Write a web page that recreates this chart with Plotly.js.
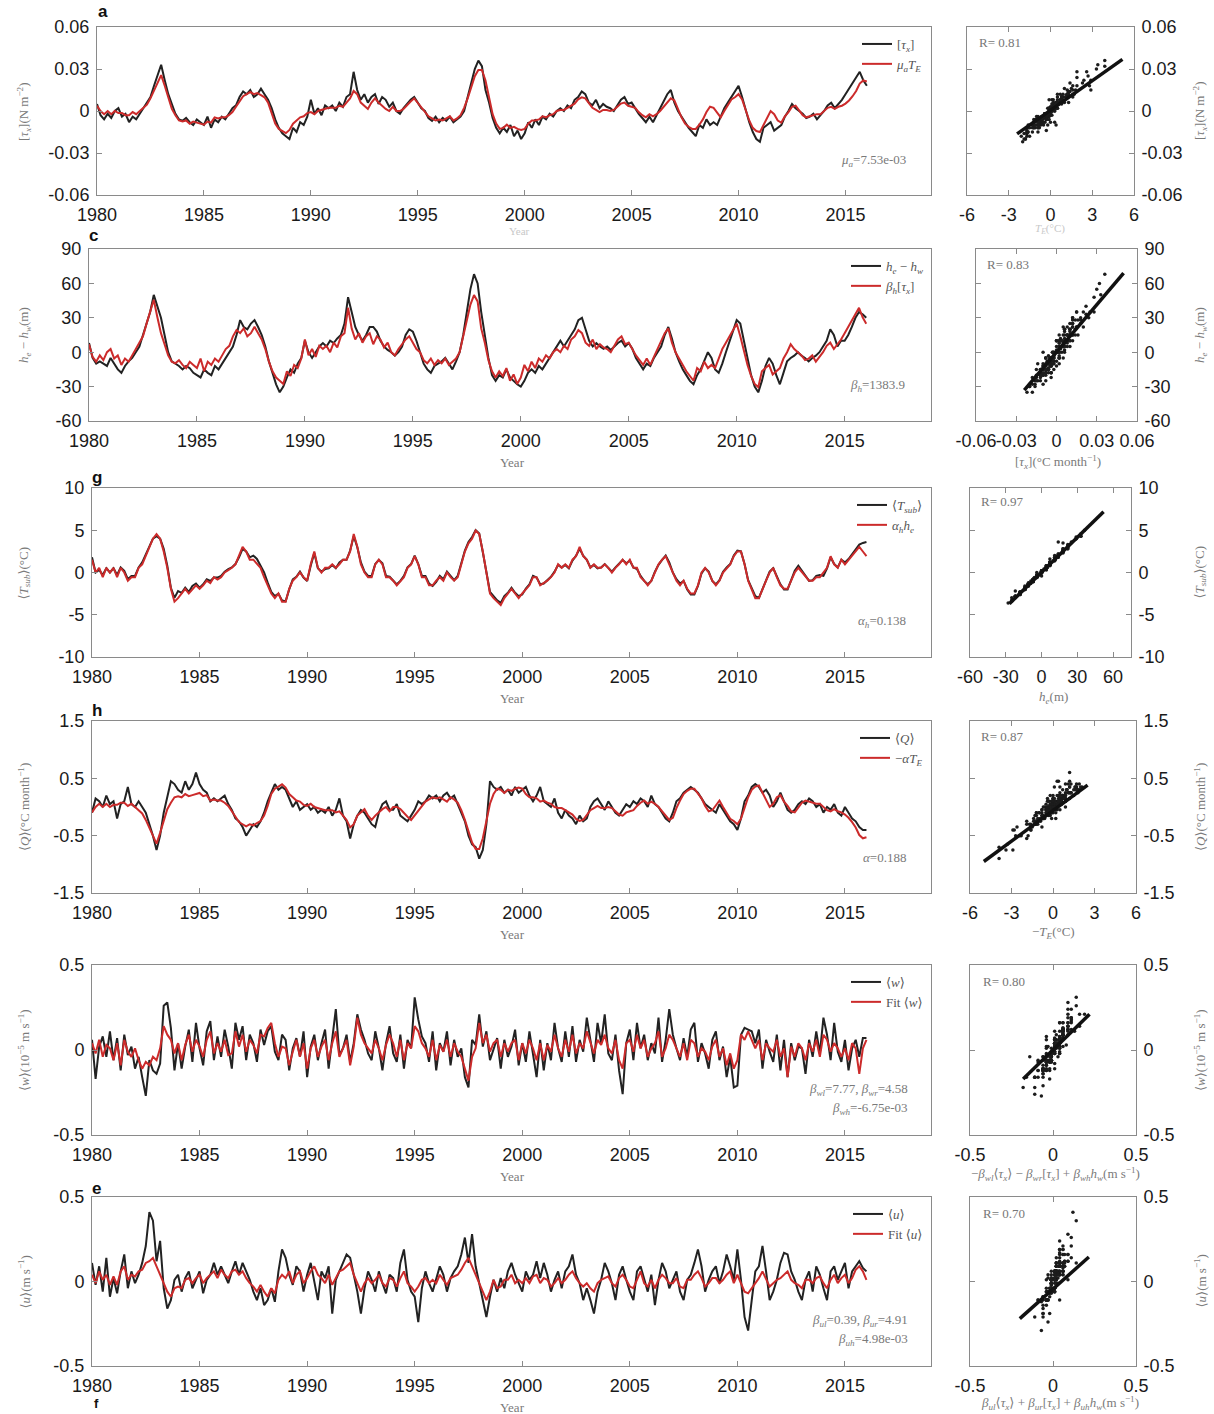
<!DOCTYPE html>
<html><head><meta charset="utf-8">
<script src="https://cdn.plot.ly/plotly-3.0.1.min.js"></script>
<style>body{margin:0;background:#fff}#chart{width:1214px;height:1414px}</style>
</head><body><div id="chart"></div>
<script>
// ---------------- DATA (bimonthly samples, Jan 1980 .. Jan 2016) ----------------
const startYear = 1980, stepYears = 1/6;
// Eastern SST anomaly T_E (°C)
const TE = [0.5,0,-0.3,0,-0.3,0, -0.2,-0.2,-0.4,-0.4,-0.1,-0.3, 0,0.3,0.6,1.2,1.9,2.7,
 3.4,2.4,1.2,0.2,-0.4,-0.9, -1.0,-0.9,-1.2,-1.0,-1.1,-1.2, -1.3,-1.0,-1.1,-0.6,-0.7,-0.6,
 -0.6,-0.4,-0.1,0.4,0.9,1.4, 1.6,1.8,1.6,1.7,1.5,1.3, 0.8,-0.1,-1.2,-1.7,-1.9,-2.1,
 -1.8,-1.2,-0.9,-0.6,-0.5,-0.2, -0.1,-0.3,0,0.1,0.2,0.3, 0.3,0.3,0.5,0.4,0.8,1.2,
 1.9,1.6,0.8,0.5,0.2,0.8, 1.2,0.8,0.5,0.2,0,0.4, 0,0,0.2,0.6,0.9,1.2,
 0.8,0.4,-0.1,-0.5,-0.7,-0.9, -0.8,-0.9,-0.7,-0.5,-0.9,-0.7, -0.4,0.3,1.2,2.3,3.3,3.9,
 3.9,2.9,1.3,-0.3,-1.2,-1.7, -1.6,-1.3,-1.6,-1.5,-1.7,-1.8, -1.7,-1.2,-0.9,-0.9,-0.8,-0.5,
 -0.6,-0.4,-0.3,0,0.1,0.1, 0.3,0.5,0.7,1.1,1.3,1.2, 0.7,0.3,0.1,-0.1,0.1,0.1,
 0,0.1,0.4,0.7,0.8,0.5, 0.4,0.3,-0.1,-0.4,-0.6,-0.3, -0.5,-0.3,0,0.4,0.9,1.2,
 1.0,0.1,-0.6,-1.2,-1.5,-1.7, -1.7,-1.3,-0.8,-0.1,0.4,0.3, -0.2,-0.6,0,0.5,1.1,1.3,
 1.6,1.1,0,-0.9,-1.6,-1.9, -2.0,-1.3,-0.7,0,-0.3,-0.9, -1.1,-0.5,-0.1,0.4,0.5,0.1,
 -0.4,-0.6,-0.5,-0.4,-0.3,-0.3, 0,0.3,0.4,0.2,0.4,0.5, 0.7,1.0,1.4,1.9,2.6,2.9, 2.8];
// Zonal wind stress [tau_x] (N m^-2)
const tauxObs = [.005,-.003,-.006,-.002,-.005,0, .002,-.004,-.002,-.008,-.004,-.006, -.002,.002,.006,.010,.018,.025,
 .033,.022,.012,.005,-.002,-.006, -.007,-.005,-.008,-.010,-.006,-.008, -.010,-.004,-.012,-.006,-.008,-.004,
 -.006,-.002,.002,.004,.010,.014, .012,.015,.010,.012,.016,.012, .008,.002,-.006,-.012,-.016,-.018,
 -.020,-.012,-.015,-.008,-.010,-.004, .008,-.002,.002,-.003,.004,.002, .004,0,.006,.003,.010,.012,
 .028,.015,.008,.012,.006,.010, .012,.005,.010,.008,.003,.006, 0,-.002,.002,.005,.008,.010,
 .006,.002,0,-.005,-.007,-.004, -.008,-.005,-.007,-.004,-.008,-.006, -.004,0,.010,.020,.030,.036,
 .032,.015,.006,-.005,-.012,-.016, -.012,-.015,-.010,-.018,-.014,-.020, -.016,-.008,-.012,-.006,-.010,-.004,
 -.006,-.002,-.004,0,.002,0, .004,.002,.008,.010,.014,.012, .006,.004,.008,.002,.005,.003,
 .002,0,.004,.008,.010,.005, .006,.002,-.002,-.005,-.008,-.004, -.008,-.003,.002,.006,.012,.015,
 .006,0,-.004,-.008,-.012,-.015, -.018,-.010,-.012,-.006,-.010,-.008, -.010,-.004,.002,.006,.010,.014,
 .018,.010,0,-.008,-.015,-.020, -.022,-.012,-.010,-.008,-.014,-.012, -.010,-.004,0,.005,.002,0,
 -.002,-.005,-.004,-.002,-.006,-.003, 0,.004,.006,.002,.005,.008, .012,.016,.020,.024,.028,.022, .018];
// Thermocline depth difference h_e - h_w (m)
const hDiff = [8,-5,-10,-8,-10,-12, -5,-10,-15,-18,-12,-8, -5,0,5,15,25,35,
 50,40,30,15,0,-8, -10,-12,-15,-12,-14,-18, -20,-22,-15,-18,-20,-12,
 -15,-10,-5,0,5,15, 28,22,20,25,28,22, 15,5,-8,-18,-28,-35,
 -30,-22,-15,-18,-10,-5, 10,0,-5,0,5,8, 5,10,8,12,15,25,
 48,35,22,15,10,15, 22,22,18,10,5,2, 0,-3,0,5,15,20,
 18,10,0,-10,-15,-18, -12,-10,-8,-5,-10,-15, -8,0,15,35,55,68,
 60,35,15,-5,-20,-25, -20,-22,-15,-22,-25,-28, -30,-25,-18,-15,-18,-12,
 -15,-10,-5,0,5,10, 5,10,15,20,28,30, 20,10,5,8,5,3,
 5,2,5,8,10,5, 8,3,-5,-10,-15,-10, -12,-5,0,5,15,22,
 12,0,-8,-15,-20,-25, -28,-20,-15,-8,0,-5, -15,-18,-10,0,10,20,
 28,25,10,-5,-20,-30, -35,-25,-12,-5,-10,-20, -28,-18,-8,-5,-3,0,
 -3,-5,-8,-5,-3,0, 5,10,20,15,5,10, 10,15,22,30,35,33, 30];
// Eastern thermocline depth h_e (m)
const heVals = [11,0,4,-4,4,0, 4,-4,4,0,-7,-4, -4,4,7,14,22,29,
 33,29,18,4,-14,-25, -22,-18,-14,-18,-14,-11, -14,-11,-7,-9,-4,-6,
 -4,0,2,4,7,14, 22,18,11,11,7,4, -4,-11,-18,-22,-18,-25,
 -25,-14,-7,-4,0,-4, -7,7,18,4,0,4, 4,7,4,7,11,11,
 18,33,22,7,0,-4, -4,7,11,7,-4,-4, -7,-11,-7,-4,4,7,
 14,7,-4,-4,-11,-11, -7,-4,-7,0,-4,-7, -4,7,18,25,29,36,
 33,18,0,-18,-22,-25, -28,-22,-18,-14,-18,-22, -18,-14,-11,-4,-4,-11,
 -9,-7,-4,0,7,4, 7,4,11,14,22,14, 11,4,7,4,4,7,
 4,0,4,7,11,7, 11,4,4,-4,-7,-11, -7,0,7,11,14,7,
 0,-7,-11,-7,-14,-18, -18,-11,0,4,0,-7, -11,-7,0,4,7,14,
 18,18,7,-7,-14,-22, -22,-14,-7,0,4,-4, -11,-14,-14,-7,0,4,
 0,-4,-7,-7,-4,-4, 0,4,14,7,4,11, 7,11,14,18,22,18, 14];
// Subsurface temperature <T_sub> (°C)
const TsubObs = [1.8,0,0.3,-0.3,0.5,0, 0.5,-0.3,0.6,0.2,-0.8,-0.4, -0.4,0.6,1.2,2.2,3.2,4.0,
 4.3,4.0,2.8,0.8,-1.8,-3.0, -2.2,-2.4,-1.8,-2.3,-1.6,-1.3, -1.8,-1.4,-0.8,-1.0,-0.6,-0.6,
 -0.4,0.1,0.4,0.6,1.0,1.8, 2.8,2.5,1.8,2.0,1.6,0.8, 0.0,-1.2,-2.3,-2.8,-2.5,-3.3,
 -3.4,-2.0,-0.8,-0.5,0.1,-0.6, -1.0,0.8,2.3,0.5,0.1,0.4, 0.5,0.9,0.5,1.2,1.5,1.5,
 2.6,4.3,3.0,1.2,0.1,-0.4, -0.4,1.0,1.5,1.1,-0.4,-0.5, -0.9,-1.4,-1.0,-0.4,0.6,1.0,
 2.0,1.0,-0.4,-0.4,-1.3,-1.6, -1.1,-0.4,-0.8,0.1,-0.4,-0.9, -0.4,1.1,2.6,3.6,4.2,5.0,
 4.6,2.4,0.2,-2.3,-2.8,-3.3, -3.6,-2.8,-2.4,-1.8,-2.4,-2.8, -2.6,-1.9,-1.4,-0.4,-0.6,-1.4,
 -1.3,-0.9,-0.5,0.1,0.9,0.6, 0.9,0.5,1.4,2.0,2.8,2.0, 1.5,0.6,0.9,0.5,0.6,1.0,
 0.5,0.1,0.6,1.0,1.5,1.1, 1.4,0.6,0.4,-0.4,-1.0,-1.4, -1.0,0.1,0.9,1.5,2.0,1.2,
 0.0,-0.8,-1.3,-1.0,-2.0,-2.6, -2.6,-1.6,-0.1,0.5,0.1,-1.0, -1.4,-0.9,0.1,0.6,1.0,2.0,
 2.6,2.5,1.0,-0.9,-1.9,-2.8, -3.0,-2.0,-1.1,0.1,0.5,-0.4, -1.4,-2.0,-2.0,-0.9,0.2,0.8,
 0.2,-0.4,-1.0,-0.9,-0.4,-0.3, -0.4,0.5,1.8,1.0,0.6,1.5, 1.2,1.6,2.2,2.8,3.3,3.5, 3.6];
// Heat flux <Q> (°C month^-1)
const Qobs = [-0.1,0.15,0.1,0,0.2,0.05, 0.1,-0.2,0.05,0.1,0.35,0.05, 0,0.1,0,-0.1,-0.3,-0.5,
 -0.75,-0.5,-0.1,0.2,0.45,0.4, 0.3,0.25,0.45,0.3,0.4,0.6, 0.4,0.3,0.25,0.1,0.15,0.1,
 0.15,0.2,0.05,-0.05,-0.2,-0.25, -0.35,-0.5,-0.4,-0.3,-0.35,-0.25, -0.1,0.1,0.25,0.4,0.3,0.35,
 0.3,0.15,0,0.1,-0.05,0, 0.05,-0.05,0,-0.1,-0.05,-0.1, 0,-0.15,-0.05,0.15,-0.15,-0.25,
 -0.55,-0.3,-0.15,-0.05,-0.1,-0.2, -0.3,-0.35,-0.1,0.05,0.1,-0.05, -0.05,0.05,-0.15,-0.2,-0.25,-0.15,
 -0.05,0.1,0.05,0.1,0.2,0.15, 0.2,0.1,0.2,0.25,0.15,0.2, 0.05,-0.1,-0.25,-0.5,-0.65,-0.7,
 -0.9,-0.75,-0.3,0.45,0.35,0.3, 0.35,0.25,0.3,0.2,0.35,0.25, 0.3,0.35,0.2,0.1,0.2,0.35,
 0.1,0.05,0,0.15,-0.1,-0.2, -0.05,-0.15,-0.2,-0.3,-0.15,-0.25, -0.2,0,0.1,0.15,0.05,-0.05,
 0.1,0,-0.1,-0.15,-0.05,0.05, 0,0.1,0.05,0.15,0.1,0, 0.2,0.05,0,-0.1,-0.2,-0.25,
 -0.1,0.1,0.15,0.25,0.3,0.35, 0.3,0.25,0.15,0.05,0,-0.05, -0.1,0.05,-0.05,-0.15,-0.25,-0.3,
 -0.4,-0.2,0.1,0.2,0.35,0.4, 0.35,0.25,0.3,0.2,0,0.1, 0.25,0.1,-0.05,-0.1,-0.05,0.05,
 0.1,0.05,0.15,0.1,0,0.05, -0.1,0,-0.05,0.05,-0.1,-0.15, 0,-0.1,-0.2,-0.25,-0.35,-0.4, -0.4];
// Upwelling <w> (1e-5 m s^-1) and its fit
const wObs = [0.06,-0.17,0.02,0.08,-0.04,0.11, -0.06,0.07,-0.12,0.09,-0.03,0.02, -0.11,-0.04,-0.16,-0.27,-0.06,-0.12,
 -0.14,-0.08,0.26,0.28,0.13,-0.12, 0.04,-0.11,0.02,0.12,-0.07,0.16, 0.01,-0.09,0.11,0.17,-0.06,0.08,
 -0.04,0.12,0.02,-0.11,0.16,0.06, 0.14,-0.06,0.09,0.04,-0.07,0.12, 0.03,0.11,0.14,-0.01,-0.06,0.09,
 0.06,-0.12,0.01,0.07,-0.04,0.11, -0.16,0.02,0.09,-0.06,0.04,0.12, -0.11,0.06,0.24,-0.03,0.01,0.09,
 -0.07,0.04,0.21,0.12,0.06,-0.02, -0.06,0.11,0.01,-0.12,0.04,0.14, -0.02,-0.07,0.09,-0.11,0.06,0.01,
 0.31,0.18,0.08,0.04,-0.07,0.11, -0.12,0.04,-0.01,0.11,-0.09,0.06, -0.04,0.01,-0.16,-0.22,0.06,0.03,
 0.21,0.02,0.11,-0.06,0.01,0.07, -0.11,0.06,-0.04,0.02,0.12,-0.09, 0.04,-0.07,0.11,-0.02,-0.16,0.06,
 -0.12,0.04,-0.06,0.16,0.01,-0.07, 0.11,-0.04,0.14,-0.07,0.06,-0.01, 0.19,0.06,-0.07,0.16,0.04,0.21,
 -0.02,-0.06,0.09,-0.12,-0.26,0.04, 0.12,-0.06,0.16,0.01,0.09,-0.06, 0.04,-0.02,0.19,-0.07,0.06,0.24,
 0.09,0.01,-0.06,0.07,-0.04,0.12, 0.16,-0.07,0.04,-0.02,-0.11,0.06, 0.11,-0.06,0.02,-0.16,-0.04,-0.22,
 -0.21,0.09,0.13,0.12,0.11,0.04, 0.12,-0.11,0.06,-0.01,-0.07,0.09, -0.12,0.06,-0.16,0.04,-0.06,0.02,
 0.01,-0.14,0.06,-0.04,0.11,-0.02, 0.19,0.09,-0.06,0.16,-0.01,-0.07, 0.06,-0.12,0.01,0.06,-0.04,0.07, 0.07];
const wFit = [0.04,-0.02,0.06,-0.04,0.03,0.01, -0.06,0.04,-0.09,0.06,-0.01,-0.04, 0.01,-0.06,-0.11,-0.07,-0.09,-0.04,
 -0.06,0.01,0.14,0.09,0.06,-0.02, 0.04,-0.06,0.03,0.09,-0.01,0.06, 0.02,-0.04,0.06,0.11,-0.02,0.04,
 -0.01,0.06,-0.03,-0.02,0.11,0.02, 0.09,-0.01,0.06,0.03,-0.02,0.09, 0.08,0.13,0.16,0.04,-0.04,0.02,
 0.01,-0.09,-0.01,0.06,-0.04,0.04, -0.11,0.01,0.06,-0.04,0.02,0.06, -0.06,0.04,0.11,-0.04,0.01,0.06,
 -0.09,0.02,0.19,0.09,0.04,0.01, -0.02,0.06,0.01,-0.06,0.03,0.09, 0.04,-0.04,0.06,-0.06,0.04,0.01,
 0.14,0.11,0.04,0.01,-0.04,0.06, -0.06,0.03,-0.01,0.06,-0.04,0.04, -0.01,-0.04,-0.11,-0.18,-0.04,0.01,
 0.16,0.04,0.09,-0.01,0.04,0.06, -0.04,0.04,-0.01,0.04,0.06,-0.06, 0.04,-0.02,0.06,0.01,-0.06,0.04,
 -0.06,0.03,-0.01,0.09,0.01,-0.04, 0.06,-0.01,0.09,-0.02,0.04,0.01, 0.11,0.04,-0.02,0.06,0.03,0.09,
 0.01,-0.02,0.06,-0.06,-0.11,0.04, 0.06,-0.01,0.09,0.01,0.06,-0.04, 0.01,0.04,0.11,-0.04,0.01,0.09,
 0.06,0.01,-0.04,0.04,-0.06,0.06, 0.04,-0.04,0.01,-0.01,-0.06,0.02, 0.06,-0.04,0.01,-0.09,-0.02,-0.11,
 -0.06,0.09,0.06,0.11,0.06,0.01, 0.06,-0.06,0.04,0.01,-0.01,0.06, -0.04,0.01,-0.16,0.02,-0.04,0.04,
 0.01,-0.06,0.04,-0.01,0.06,-0.04, 0.09,0.06,-0.01,0.04,0.01,-0.04, 0.01,-0.06,0.04,0.01,-0.14,0.01, 0.06];
// Zonal current <u> (m s^-1) and its fit
const uObs = [0.11,-0.02,0.09,-0.06,0.14,-0.09, 0.02,-0.07,0.06,0.16,-0.04,0.06, -0.01,0.04,0.11,0.21,0.41,0.36,
 0.12,0.24,-0.04,-0.16,-0.11,0.01, 0.04,-0.06,0.02,0.06,-0.04,0.01, 0.06,-0.07,0.01,0.04,0.11,0.04,
 0.09,0.04,-0.01,0.06,0.12,0.04, 0.11,0.06,0.01,-0.06,-0.11,-0.04, -0.14,-0.11,-0.04,-0.12,0.06,0.19,
 0.14,0.04,-0.02,0.09,0.06,-0.06, 0.04,0.11,0.01,-0.11,0.06,0.02, 0.09,-0.19,0.01,0.06,0.12,0.16,
 0.14,0.04,-0.06,-0.19,-0.04,0.06, 0.01,-0.06,0.06,-0.01,-0.07,0.04, 0.02,-0.06,0.11,0.19,0.01,-0.06,
 -0.09,-0.24,-0.04,0.06,-0.01,-0.06, 0.01,0.09,0.04,-0.06,0.02,0.06, 0.09,0.16,0.26,0.11,0.28,0.09,
 -0.01,-0.11,-0.21,-0.09,0.01,-0.06, 0.02,-0.04,0.06,0.11,0.04,-0.01, -0.06,0.06,0.01,0.04,0.12,0.02,
 0.11,0.04,-0.06,0.01,0.06,-0.04, 0.06,0.09,0.16,0.04,-0.01,-0.11, -0.04,-0.11,-0.19,-0.06,0.01,0.11,
 0.06,-0.01,-0.11,0.04,0.09,0.01, -0.06,-0.11,0.06,0.09,0.01,-0.06, 0.04,-0.14,0.01,0.11,0.06,-0.04,
 0.01,0.06,-0.06,-0.11,0.01,0.04, 0.11,0.19,0.09,-0.06,0.01,0.06, 0.09,-0.01,0.06,0.16,0.09,0.01,
 0.19,0.01,-0.21,-0.29,-0.11,0.06, 0.09,0.21,0.06,-0.11,-0.06,0.01, 0.11,0.17,0.16,0.06,0.01,-0.06,
 -0.11,0.01,0.06,-0.06,0.09,0.04, -0.04,-0.11,0.06,0.09,0.01,0.06, 0.11,-0.04,0.06,0.09,0.12,0.08, 0.06];
const uFit = [0.04,-0.01,0.06,0.01,0.04,-0.02, 0.03,-0.02,0.06,0.09,0.01,0.04, 0.03,0.06,0.07,0.11,0.12,0.14,
 0.09,0.04,-0.02,-0.06,-0.09,-0.04, -0.03,-0.04,0.01,0.02,-0.01,0.02, 0.04,-0.01,0.02,0.04,0.06,0.02,
 0.07,0.04,0.02,0.06,0.07,0.04, 0.06,0.02,-0.01,-0.03,-0.06,-0.02, -0.06,-0.09,-0.04,-0.07,0.01,0.04,
 0.02,0.06,-0.01,0.04,0.06,-0.01, 0.02,0.06,0.09,0.04,0.02,-0.01, 0.04,-0.02,0.02,0.06,0.07,0.09,
 0.11,0.04,-0.01,-0.06,-0.01,0.02, -0.01,0.01,0.04,-0.01,-0.03,0.02, 0.01,-0.03,0.02,0.06,-0.01,-0.03,
 -0.06,-0.03,0.01,0.02,-0.01,0.01, -0.01,0.04,0.01,-0.02,0.02,0.03, 0.04,0.07,0.11,0.14,0.09,0.04,
 -0.01,-0.07,-0.11,-0.06,0.01,-0.04, -0.03,0.01,0.01,0.04,-0.01,0.01, -0.01,0.02,-0.01,0.03,0.04,-0.01,
 0.02,0.01,-0.03,-0.01,0.02,-0.01, 0.01,0.04,0.06,0.02,-0.01,-0.03, -0.01,-0.04,-0.06,-0.01,0.01,0.02,
 0.03,-0.01,-0.03,0.02,0.04,0.01, -0.03,-0.04,0.01,0.06,-0.01,-0.03, 0.01,-0.04,0.01,0.04,0.02,-0.01,
 -0.01,0.02,-0.03,-0.04,0.01,0.01, 0.04,0.06,0.02,-0.03,-0.01,0.02, 0.02,-0.01,0.01,0.04,0.06,-0.01,
 0.04,-0.01,-0.06,-0.07,-0.04,-0.01, 0.02,0.06,0.01,-0.03,-0.01,0.01, 0.02,0.04,0.06,0.01,-0.01,-0.02,
 -0.04,0.01,0.01,-0.01,0.02,0.03, -0.01,-0.04,0.01,0.04,-0.01,0.02, 0.04,-0.01,0.02,0.07,0.09,0.06, 0.01];
// Regression coefficients
const muA = 7.53e-3, betaH = 1383.9, alphaH = 0.138, alphaQ = 0.188;
// Fitted lines drawn in the scatter panels (end points)
const fitAx = [-2.4, 5.17],   fitAy = [-0.0163, 0.0369];
const fitCx = [-0.024, 0.05], fitCy = [-33, 69];
const fitGx = [-27, 52],      fitGy = [-3.7, 7.2];
const fitHx = [-5.0, 2.5],    fitHy = [-0.95, 0.38];
const fitWx = [-0.18, 0.22],  fitWy = [-0.17, 0.21];
const fitUx = [-0.20, 0.216], fitUy = [-0.22, 0.145];
const timeTicks = [1980,1985,1990,1995,2000,2005,2010,2015];

// ---------------- FIGURE ----------------
const W = 1214, H = 1414;
const FT = 'Liberation Sans, Arial, sans-serif';
const FM = 'Liberation Serif, DejaVu Serif, serif';
const BLACK = '#222222', RED = '#cc2b2b', GREY = '#7a7a7a';
const px = v => v / W, py = v => 1 - v / H;
const times = arr => arr.map((_, i) => startYear + i * stepYears);
const scale = (arr, k) => arr.map(v => v * k);

const rows = [
 {ts:[97,931,27,195], sc:[967,1134,27,195], yr:[-0.06,0.06], yv:[-0.06,-0.03,0,0.03,0.06], yt:['-0.06','-0.03','0','0.03','0.06'],
  sxr:[-6,6], sxv:[-6,-3,0,3,6], sxt:['-6','-3','0','3','6'],
  black:tauxObs, red:scale(TE,muA), sx:TE, sy:tauxObs, fx:fitAx, fy:fitAy,
  l1:'[<i>τ<sub>x</sub></i>]', l2:'<i>μ<sub>a</sub>T<sub>E</sub></i>'},
 {ts:[89,931,249,421], sc:[976,1137,249,421], yr:[-60,90], yv:[-60,-30,0,30,60,90], yt:['-60','-30','0','30','60','90'],
  sxr:[-0.06,0.06], sxv:[-0.06,-0.03,0,0.03,0.06], sxt:['-0.06','-0.03','0','0.03','0.06'],
  black:hDiff, red:scale(tauxObs,betaH), sx:tauxObs, sy:hDiff, fx:fitCx, fy:fitCy,
  l1:'<i>h<sub>e</sub></i> − <i>h<sub>w</sub></i>', l2:'<i>β<sub>h</sub></i>[<i>τ<sub>x</sub></i>]'},
 {ts:[92,931,488,657], sc:[970,1131,488,657], yr:[-10,10], yv:[-10,-5,0,5,10], yt:['-10','-5','0','5','10'],
  sxr:[-60,75], sxv:[-60,-30,0,30,60], sxt:['-60','-30','0','30','60'],
  black:TsubObs, red:scale(heVals,alphaH), sx:heVals, sy:TsubObs, fx:fitGx, fy:fitGy,
  l1:'⟨<i>T<sub>sub</sub></i>⟩', l2:'<i>α<sub>h</sub>h<sub>e</sub></i>'},
 {ts:[92,931,721,893], sc:[970,1136,721,893], yr:[-1.5,1.5], yv:[-1.5,-0.5,0.5,1.5], yt:['-1.5','-0.5','0.5','1.5'],
  sxr:[-6,6], sxv:[-6,-3,0,3,6], sxt:['-6','-3','0','3','6'],
  black:Qobs, red:scale(TE,-alphaQ), sx:scale(TE,-1), sy:Qobs, fx:fitHx, fy:fitHy,
  l1:'⟨<i>Q</i>⟩', l2:'−<i>αT<sub>E</sub></i>'},
 {ts:[92,931,965,1135], sc:[970,1136,965,1135], yr:[-0.5,0.5], yv:[-0.5,0,0.5], yt:['-0.5','0','0.5'],
  sxr:[-0.5,0.5], sxv:[-0.5,0,0.5], sxt:['-0.5','0','0.5'],
  black:wObs, red:wFit, sx:wFit, sy:wObs, fx:fitWx, fy:fitWy,
  l1:'⟨<i>w</i>⟩', l2:'Fit ⟨<i>w</i>⟩'},
 {ts:[92,931,1197,1366], sc:[970,1136,1197,1366], yr:[-0.5,0.5], yv:[-0.5,0,0.5], yt:['-0.5','0','0.5'],
  sxr:[-0.5,0.5], sxv:[-0.5,0,0.5], sxt:['-0.5','0','0.5'],
  black:uObs, red:uFit, sx:uFit, sy:uObs, fx:fitUx, fy:fitUy,
  l1:'⟨<i>u</i>⟩', l2:'Fit ⟨<i>u</i>⟩'}
];

function axBase(extra) {
  return Object.assign({showgrid:false, zeroline:false, showline:true, mirror:'ticks',
    linecolor:'#8a8a8a', linewidth:1, ticks:'inside', ticklen:5, tickcolor:'#8a8a8a',
    tickangle:0, ticklabelstandoff:3, fixedrange:true,
    tickfont:{family:FT, size:18, color:'#1a1a1a'}}, extra);
}

const data = [];
const layout = {width:W, height:H, margin:{l:0,r:0,t:0,b:0}, paper_bgcolor:'#fff', plot_bgcolor:'#fff',
  showlegend:true, annotations:[], font:{family:FT}};

rows.forEach((r, i) => {
  const a = 2*i + 1, b = 2*i + 2;
  const xa = 'x' + (a === 1 ? '' : a), ya = 'y' + (a === 1 ? '' : a);
  const xb = 'x' + b, yb = 'y' + b;
  const lg = 'legend' + (i === 0 ? '' : (i + 1));
  layout['xaxis' + (a === 1 ? '' : a)] = axBase({domain:[px(r.ts[0]), px(r.ts[1])], range:[1980, 2019],
    tickvals:timeTicks, ticktext:timeTicks.map(String), anchor:ya, mirror:true});
  layout['yaxis' + (a === 1 ? '' : a)] = axBase({domain:[py(r.ts[3]), py(r.ts[2])], range:r.yr,
    tickvals:r.yv, ticktext:r.yt, anchor:xa, mirror:true});
  layout['xaxis' + b] = axBase({domain:[px(r.sc[0]), px(r.sc[1])], range:r.sxr,
    tickvals:r.sxv, ticktext:r.sxt, anchor:yb});
  layout['yaxis' + b] = axBase({domain:[py(r.sc[3]), py(r.sc[2])], range:r.yr,
    tickvals:r.yv, ticktext:r.yt, anchor:xb, side:'right'});
  layout[lg] = {x:px(r.ts[1] - 3), xanchor:'right', y:py(r.ts[2] + 2), yanchor:'top',
    bgcolor:'rgba(0,0,0,0)', borderwidth:0, itemwidth:30, tracegroupgap:0, traceorder:'normal',
    font:{family:FM, size:13, color:'#555'}};
  data.push({type:'scatter', mode:'lines', x:times(r.black), y:r.black, xaxis:xa, yaxis:ya,
    name:r.l1, legend:lg, line:{color:BLACK, width:2}});
  data.push({type:'scatter', mode:'lines', x:times(r.red), y:r.red, xaxis:xa, yaxis:ya,
    name:r.l2, legend:lg, line:{color:RED, width:2}});
  data.push({type:'scatter', mode:'markers', x:r.sx, y:r.sy, xaxis:xb, yaxis:yb, showlegend:false,
    marker:{size:3.5, color:'#1c1c1c'}});
  data.push({type:'scatter', mode:'lines', x:r.fx, y:r.fy, xaxis:xb, yaxis:yb, showlegend:false,
    line:{color:'#111', width:3.5}});
});

function ann(text, x, y, opt) {
  layout.annotations.push(Object.assign({text:text, x:px(x), y:py(y), xref:'paper', yref:'paper',
    showarrow:false, xanchor:'center', yanchor:'middle',
    font:{family:FM, size:13, color:GREY}}, opt || {}));
}
// panel letters
[['a',103,12],['c',93,236],['g',97,477],['h',97,710],['e',97,1188]].forEach(p =>
  ann('<b>' + p[0] + '</b>', p[1], p[2], {font:{family:FT, size:17, color:'#111'}}));
ann('<b>f</b>', 97, 1403, {font:{family:FT, size:13, color:'#111'}});
// left y titles
const yTitles = ['[<i>τ<sub>x</sub></i>](N m<sup>−2</sup>)', '<i>h<sub>e</sub></i> − <i>h<sub>w</sub></i>(m)',
  '⟨<i>T<sub>sub</sub></i>⟩(°C)', '⟨<i>Q</i>⟩(°C month<sup>−1</sup>)',
  '⟨<i>w</i>⟩(10<sup>−5</sup> m s<sup>−1</sup>)', '⟨<i>u</i>⟩(m s<sup>−1</sup>)'];
rows.forEach((r, i) => {
  const yc = (r.ts[2] + r.ts[3]) / 2;
  ann(yTitles[i], 24, yc, {textangle:-90});
  ann(yTitles[i], 1200, yc, {textangle:-90});
  if (i > 0) ann('Year', 512, r.ts[3] + 41);
});
ann('Year', 519, 231, {font:{family:FM, size:11, color:'#c8c8c8'}});
ann('<i>T<sub>E</sub></i>(°C)', 1050, 229, {font:{family:FM, size:11, color:'#c8c8c8'}});
ann('[<i>τ<sub>x</sub></i>](°C month<sup>−1</sup>)', 1058, 462);
ann('<i>h<sub>e</sub></i>(m)', 1053, 697);
ann('−<i>T<sub>E</sub></i>(°C)', 1053, 932);
ann('−<i>β<sub>wl</sub></i>⟨<i>τ<sub>x</sub></i>⟩ − <i>β<sub>wr</sub></i>[<i>τ<sub>x</sub></i>] + <i>β<sub>wh</sub>h<sub>w</sub></i>(m s<sup>−1</sup>)', 1055, 1174);
ann('<i>β<sub>ul</sub></i>⟨<i>τ<sub>x</sub></i>⟩ + <i>β<sub>ur</sub></i>[<i>τ<sub>x</sub></i>] + <i>β<sub>uh</sub>h<sub>w</sub></i>(m s<sup>−1</sup>)', 1060, 1403);
// coefficient labels
ann('<i>μ<sub>a</sub></i>=7.53e-03', 908, 160, {xanchor:'right'});
ann('<i>β<sub>h</sub></i>=1383.9', 907, 385, {xanchor:'right'});
ann('<i>α<sub>h</sub></i>=0.138', 908, 621, {xanchor:'right'});
ann('<i>α</i>=0.188', 908, 857, {xanchor:'right'});
ann('<i>β<sub>wl</sub></i>=7.77, <i>β<sub>wr</sub></i>=4.58', 910, 1089, {xanchor:'right'});
ann('<i>β<sub>wh</sub></i>=-6.75e-03', 910, 1108, {xanchor:'right'});
ann('<i>β<sub>ul</sub></i>=0.39, <i>β<sub>ur</sub></i>=4.91', 910, 1320, {xanchor:'right'});
ann('<i>β<sub>uh</sub></i>=4.98e-03', 910, 1339, {xanchor:'right'});
// correlation labels
[['R= 0.81',977,42],['R= 0.83',985,264],['R= 0.97',979,502],['R= 0.87',979,736],['R= 0.80',981,981],['R= 0.70',981,1213]]
  .forEach(p => ann(p[0], p[1], p[2], {xanchor:'left', font:{family:FM, size:13, color:'#777'}}));

Plotly.newPlot('chart', data, layout, {staticPlot:true, displayModeBar:false});
</script></body></html>
